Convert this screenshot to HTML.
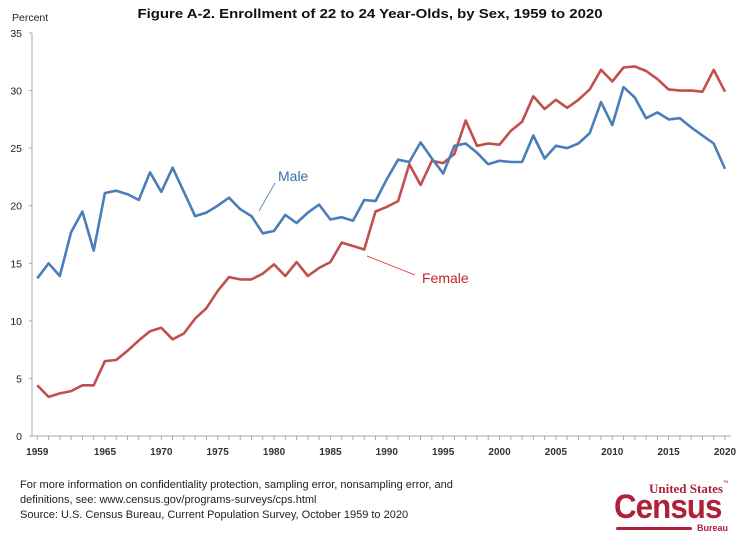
<!DOCTYPE html>
<html><head><meta charset="utf-8"><style>
body{margin:0;background:#fff;font-family:"Liberation Sans",sans-serif}
#wrap{position:relative;width:740px;height:538px;overflow:hidden}
.foot{position:absolute;left:20px;font-size:11px;color:#222;line-height:15px}
</style></head><body>
<div id="wrap">
<svg id="chart" width="740" height="538" style="position:absolute;left:0;top:0"></svg>
<div class="foot" style="top:478px">For more information on confidentiality protection, sampling error, nonsampling error, and<br>definitions, see:  www.census.gov/programs-surveys/cps.html<br>Source: U.S. Census Bureau, Current Population Survey, October 1959 to 2020</div>
<div style="position:absolute;left:614px;top:481px;width:118px;height:50px;color:#b0203a;font-weight:bold">
<div style="position:absolute;right:4px;top:0;font-size:13px;font-family:'Liberation Serif',serif">United States<span style="font-size:5px;vertical-align:top">™</span></div>
<div style="position:absolute;left:0;top:7px;font-size:34px;letter-spacing:-1px;transform:scaleX(0.92);transform-origin:left">Census</div>
<div style="position:absolute;left:2px;top:46px;width:76px;height:3px;background:#b0203a;border-radius:2px"></div>
<div style="position:absolute;right:4px;top:42px;font-size:9px">Bureau</div>
</div>
</div>
<script>
const years=[];for(let y=1959;y<=2020;y++)years.push(y);
const maleValues=[13.7,15.0,13.9,17.7,19.5,16.1,21.1,21.3,21.0,20.5,22.9,21.2,23.3,21.2,19.1,19.4,20.0,20.7,19.7,19.1,17.6,17.8,19.2,18.5,19.4,20.1,18.8,19.0,18.7,20.5,20.4,22.3,24.0,23.8,25.5,24.1,22.8,25.2,25.4,24.6,23.6,23.9,23.8,23.8,26.1,24.1,25.2,25.0,25.4,26.3,29.0,27.0,30.3,29.4,27.6,28.1,27.5,27.6,26.8,26.1,25.4,23.2];
const femaleValues=[4.4,3.4,3.7,3.9,4.4,4.4,6.5,6.6,7.4,8.3,9.1,9.4,8.4,8.9,10.2,11.1,12.6,13.8,13.6,13.6,14.1,14.9,13.9,15.1,13.9,14.6,15.1,16.8,16.5,16.2,19.5,19.9,20.4,23.6,21.8,23.9,23.7,24.5,27.4,25.2,25.4,25.3,26.5,27.3,29.5,28.4,29.2,28.5,29.2,30.1,31.8,30.8,32.0,32.1,31.7,31.0,30.1,30.0,30.0,29.9,31.8,29.9];
const yTicks=[0,5,10,15,20,25,30,35];
const xLabels=[1959,1965,1970,1975,1980,1985,1990,1995,2000,2005,2010,2015,2020];
const NS="http://www.w3.org/2000/svg";
const svg=document.getElementById('chart');
const X=y=>37.3+(y-1959)*(725-37.3)/61;
const Y=v=>436-v*(436-33)/35;
function mk(t,a,p){const e=document.createElementNS(NS,t);for(const k in a)e.setAttribute(k,a[k]);(p||svg).appendChild(e);return e;}
let e;
e=mk('text',{x:370,y:18,'text-anchor':'middle','font-size':13,'font-weight':'bold',fill:'#111',textLength:465,lengthAdjust:'spacingAndGlyphs'});e.textContent='Figure A-2.  Enrollment of 22 to 24 Year-Olds, by Sex, 1959 to 2020';


e=mk('text',{x:12,y:21,'font-size':10.5,fill:'#222'});e.textContent='Percent';


e=mk('line',{x1:32,y1:33,x2:32,y2:436,stroke:'#aaa'});


e=mk('line',{x1:32,y1:436,x2:731,y2:436,stroke:'#aaa'});


yTicks.forEach(v=>{
 const l=mk('line',{x1:29,y1:Y(v),x2:32,y2:Y(v),stroke:'#aaa'});
 
 
 const t=mk('text',{x:22,y:Y(v)+4,'text-anchor':'end','font-size':10.5,fill:'#222'});t.textContent=v;
 
 
});
years.forEach(y=>{
 const l=mk('line',{x1:X(y),y1:436,x2:X(y),y2:440,stroke:'#aaa'});
 
 
});
xLabels.forEach(y=>{
 const t=mk('text',{x:X(y),y:455,'text-anchor':'middle','font-size':10,'font-weight':'bold',fill:'#333'});t.textContent=y;
 
 
});
function series(vals,color,name){
 const d=vals.map((v,i)=>(i?'L':'M')+X(years[i]).toFixed(1)+','+Y(v).toFixed(1)).join('');
 const p=mk('path',{d:d,fill:'none',stroke:color,'stroke-width':2.6,'stroke-linejoin':'round'});
 
 
}
series(femaleValues,'#c0504d','female-line');
series(maleValues,'#4a7ebb','male-line');
e=mk('line',{x1:259,y1:211,x2:275,y2:183,stroke:'#4a7ebb','stroke-width':0.8});


e=mk('text',{x:278,y:181,'font-size':14,fill:'#3c6ea8'});e.textContent='Male';


e=mk('line',{x1:367,y1:256,x2:415,y2:275,stroke:'#d03030','stroke-width':0.8});


e=mk('text',{x:422,y:283,'font-size':14,fill:'#c0262b'});e.textContent='Female';


</script>
</body></html>
